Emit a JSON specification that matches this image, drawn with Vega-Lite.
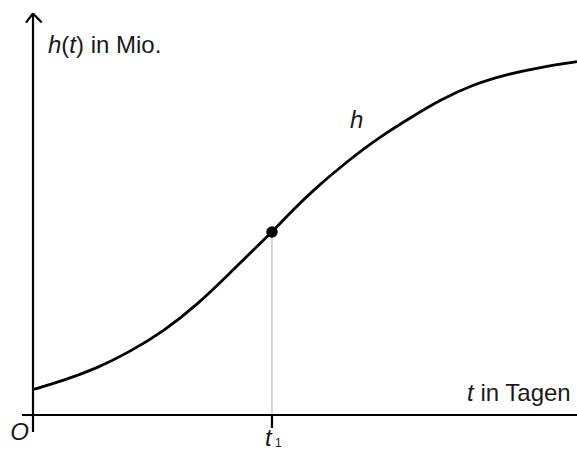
{
  "$schema": "https://vega.github.io/schema/vega-lite/v6.json",
  "width": 577,
  "height": 452,
  "padding": 0,
  "autosize": "none",
  "background": "white",
  "config": {"view": {"stroke": null}},
  "datasets": {
    "curve": [
      {"t": 0, "h": 6.375},
      {"t": 5.51, "h": 8.575},
      {"t": 11.76, "h": 11.675},
      {"t": 17.83, "h": 15.825},
      {"t": 23.9, "h": 20.825},
      {"t": 30.15, "h": 27.5},
      {"t": 36.21, "h": 35.5},
      {"t": 42.28, "h": 43.625},
      {"t": 43.93, "h": 45.75},
      {"t": 47.79, "h": 51.25},
      {"t": 51.53, "h": 56.25},
      {"t": 57.67, "h": 63.325},
      {"t": 63.79, "h": 69.575},
      {"t": 69.91, "h": 74.75},
      {"t": 74.82, "h": 78.75},
      {"t": 80.94, "h": 82.675},
      {"t": 87.08, "h": 85.175},
      {"t": 93.2, "h": 86.925},
      {"t": 100, "h": 88.325}
    ],
    "axes": [
      {"t": -2.02, "h": 0, "t2": 100, "h2": 0},
      {"t": 0, "h": -4.25, "t2": 0, "h2": 100.25},
      {"t": -1.29, "h": 98.1, "t2": 0, "h2": 100.4},
      {"t": 1.6, "h": 98.1, "t2": 0, "h2": 100.4},
      {"t": 43.93, "h": 0, "t2": 43.93, "h2": -3.25}
    ],
    "guide": [{"t": 43.93, "h": 0, "t2": 43.93, "h2": 45.75}],
    "marker": [{"t": 43.93, "h": 45.75}],
    "italicLabels": [
      {"t": 2.76, "h": 90.5, "label": "h"},
      {"t": 6.67, "h": 90.5, "label": "t"},
      {"t": 79.78, "h": 3.5, "label": "t"},
      {"t": 58.27, "h": 71.75, "label": "h"},
      {"t": 42.65, "h": -7.75, "label": "t"},
      {"t": -4.2, "h": -6.25, "label": "O"}
    ],
    "plainLabels": [
      {"t": 5.2, "h": 90.5, "label": "("},
      {"t": 7.9, "h": 90.5, "label": ") in Mio."},
      {"t": 82.24, "h": 3.5, "label": "in Tagen"}
    ],
    "subLabels": [{"t": 44.49, "h": -8.1, "label": "1"}]
  },
  "encoding": {
    "x": {"field": "t", "type": "quantitative", "scale": {"domain": [-6.066, 100], "nice": false, "zero": false}, "axis": null},
    "y": {"field": "h", "type": "quantitative", "scale": {"domain": [-9.25, 103.75], "nice": false, "zero": false}, "axis": null}
  },
  "layer": [
    {
      "data": {"name": "guide"},
      "mark": {"type": "rule", "color": "#b0b0b0", "strokeWidth": 1},
      "encoding": {"x2": {"field": "t2"}, "y2": {"field": "h2"}}
    },
    {
      "data": {"name": "axes"},
      "mark": {"type": "rule", "color": "#000000", "strokeWidth": 2.2, "strokeCap": "butt"},
      "encoding": {"x2": {"field": "t2"}, "y2": {"field": "h2"}}
    },
    {
      "data": {"name": "curve"},
      "mark": {"type": "line", "color": "#000000", "strokeWidth": 2.8, "interpolate": "basis"},
      "encoding": {}
    },
    {
      "data": {"name": "marker"},
      "mark": {"type": "point", "filled": true, "color": "#000000", "opacity": 1, "size": 130},
      "encoding": {}
    },
    {
      "data": {"name": "italicLabels"},
      "mark": {"type": "text", "font": "Liberation Sans", "fontSize": 24, "fontStyle": "italic", "align": "left", "baseline": "alphabetic", "color": "#1a1a1a"},
      "encoding": {"text": {"field": "label"}}
    },
    {
      "data": {"name": "plainLabels"},
      "mark": {"type": "text", "font": "Liberation Sans", "fontSize": 24, "align": "left", "baseline": "alphabetic", "color": "#1a1a1a"},
      "encoding": {"text": {"field": "label"}}
    },
    {
      "data": {"name": "subLabels"},
      "mark": {"type": "text", "font": "Liberation Sans", "fontSize": 12, "align": "left", "baseline": "alphabetic", "color": "#1a1a1a"},
      "encoding": {"text": {"field": "label"}}
    }
  ]
}
